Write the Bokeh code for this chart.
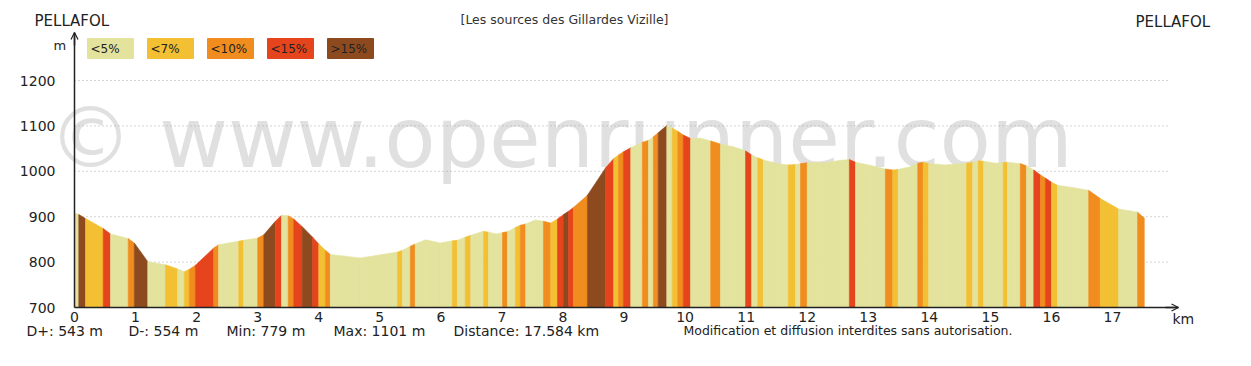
from bokeh.plotting import figure
from bokeh.models import Label, Arrow, OpenHead, FixedTicker, Range1d, LinearAxis
from bokeh.embed import file_html
from bokeh.resources import INLINE

# ---------------- data ----------------
km = [0.00, 0.07, 0.18, 0.47, 0.59, 0.88, 0.98, 1.20, 1.49, 1.69, 1.80, 1.88, 1.98,
      2.28, 2.36, 2.69, 2.77, 3.00, 3.10, 3.29, 3.39, 3.50, 3.59, 3.73, 3.90, 4.00,
      4.11, 4.19, 4.68, 5.29, 5.37, 5.50, 5.58, 5.75, 5.99, 6.19, 6.27, 6.40, 6.49,
      6.70, 6.78, 6.91, 7.01, 7.09, 7.22, 7.30, 7.39, 7.55, 7.68, 7.80, 7.91, 8.01,
      8.09, 8.17, 8.40, 8.70, 8.83, 8.91, 8.99, 9.11, 9.30, 9.40, 9.48, 9.56, 9.70,
      9.79, 9.88, 9.97, 10.09, 10.25, 10.42, 10.58, 10.79, 10.99, 11.09, 11.19, 11.28,
      11.51, 11.69, 11.81, 11.89, 12.00, 12.27, 12.54, 12.69, 12.79, 13.04, 13.28,
      13.40, 13.49, 13.69, 13.81, 13.90, 13.99, 14.26, 14.61, 14.71, 14.80, 14.89,
      15.08, 15.21, 15.28, 15.41, 15.49, 15.59, 15.71, 15.82, 15.90, 16.00, 16.10,
      16.36, 16.61, 16.80, 17.10, 17.41, 17.52]
elev = [908, 905, 896, 874, 862, 852, 842, 801, 794, 785, 779, 784, 793,
        831, 838, 846, 848, 853, 860, 890, 903, 902, 895, 878, 855, 840,
        826, 817, 809, 822, 826, 835, 840, 849, 842, 847, 848, 855, 859,
        868, 866, 862, 865, 867, 876, 881, 884, 893, 890, 886, 895, 905,
        912, 920, 947, 1008, 1028, 1036, 1043, 1052, 1064, 1068, 1076, 1085, 1101,
        1095, 1088, 1080, 1072, 1073, 1067, 1060, 1054, 1045, 1036, 1030, 1025,
        1017, 1014, 1015, 1017, 1019, 1019, 1024, 1026, 1020, 1013, 1005,
        1003, 1004, 1010, 1018, 1020, 1017, 1014, 1018, 1020, 1023, 1022,
        1018, 1019, 1020, 1018, 1017, 1012, 1003, 992, 985, 976, 969,
        964, 958, 940, 917, 910, 897]
# slope class of each segment between consecutive points
grade = ["<5%", ">15%", "<7%", "<15%", "<5%", "<10%", ">15%", "<5%", "<7%", "<5%", "<7%", "<10%", "<15%",
         "<10%", "<5%", "<7%", "<5%", "<10%", ">15%", "<15%", "<5%", "<10%", "<15%", ">15%", "<15%", "<7%",
         "<10%", "<5%", "<5%", "<7%", "<5%", "<10%", "<5%", "<5%", "<5%", "<7%", "<5%", "<7%", "<5%",
         "<7%", "<5%", "<5%", "<10%", "<5%", "<7%", "<10%", "<5%", "<5%", "<10%", "<7%", "<15%", ">15%",
         "<15%", "<10%", ">15%", "<15%", "<7%", "<10%", "<15%", "<5%", "<10%", "<5%", "<10%", ">15%", "<5%",
         "<7%", "<10%", "<15%", "<5%", "<5%", "<10%", "<5%", "<5%", "<15%", "<5%", "<7%", "<5%",
         "<5%", "<7%", "<5%", "<10%", "<5%", "<5%", "<5%", "<15%", "<5%", "<5%", "<10%",
         "<7%", "<5%", "<5%", "<10%", "<7%", "<5%", "<5%", "<7%", "<5%", "<7%", "<5%",
         "<5%", "<7%", "<5%", "<5%", "<10%", "<5%", "<15%", "<10%", "<15%", "<7%", "<5%",
         "<5%", "<10%", "<7%", "<5%", "<10%"]

grade_classes = ["<5%", "<7%", "<10%", "<15%", ">15%"]
grade_colors = ["#e3e39d", "#f3c033", "#f08d1e", "#e6441c", "#8e4a1f"]
y_ticks = [700, 800, 900, 1000, 1100, 1200]
grid_ticks = [800, 900, 1000, 1100, 1200]
x_ticks = list(range(0, 18))
stats = ["D+: 543 m", "D-: 554 m", "Min: 779 m", "Max: 1101 m", "Distance: 17.584 km"]
notice = "Modification et diffusion interdites sans autorisation."
title = "[Les sources des Gillardes Vizille]"
start_name = "PELLAFOL"
end_name = "PELLAFOL"
watermark = "\u00a9 www.openrunner.com"

FONT = "DejaVu Sans"
INK = "#222222"

# ---------------- layout helpers (page pixel -> data) ----------------
W, H = 1243, 358
PX_KM = 61.06
PX_M = 0.454
def xd(px):
    return (px - 74) / PX_KM
def yd(py):
    return 700 + (307 - py) / PX_M

p = figure(width=W, height=H, output_backend="svg", toolbar_location=None,
           x_range=Range1d(xd(0), xd(W)), y_range=Range1d(yd(H), yd(0)),
           x_axis_location=None, y_axis_location=None, min_border=0)
p.outline_line_color = None
p.background_fill_color = "white"
p.xgrid.visible = False
p.ygrid.visible = False

# watermark (behind everything)
p.add_layout(Label(x=xd(48), y=yd(137), text=watermark, text_font=FONT,
                   text_font_size="84px", text_color="#e0e0e0",
                   text_baseline="middle", level="underlay"))

# dotted horizontal guide lines
p.multi_line(xs=[[0, xd(1170)] for _ in grid_ticks], ys=[[t, t] for t in grid_ticks],
             line_color="#a8a8a8", line_dash="1 3", line_width=1)

# profile stripes
xs = [[km[i], km[i], km[i + 1], km[i + 1]] for i in range(len(grade))]
ys = [[700, elev[i], elev[i + 1], 700] for i in range(len(grade))]
cols = [grade_colors[grade_classes.index(g)] for g in grade]
p.patches(xs, ys, fill_color=cols, line_color=cols, line_width=0.6)

# axes placed at fixed data locations
xaxis = LinearAxis(fixed_location=700, bounds=(0, xd(1178)),
                   ticker=FixedTicker(ticks=x_ticks))
yaxis = LinearAxis(fixed_location=0, bounds=(700, yd(32)),
                   ticker=FixedTicker(ticks=y_ticks))
for ax in (xaxis, yaxis):
    ax.major_tick_line_color = None
    ax.minor_tick_line_color = None
    ax.axis_line_color = INK
    ax.axis_line_width = 1.5
    ax.major_label_text_font = FONT
    ax.major_label_text_font_size = "14px"
    ax.major_label_text_color = INK
xaxis.major_label_standoff = -2
yaxis.major_label_standoff = 13
p.add_layout(xaxis, "below")
p.add_layout(yaxis, "left")

# axis arrows
p.add_layout(Arrow(end=OpenHead(size=7, line_color=INK, line_width=1.2),
                   x_start=xd(1165), y_start=700, x_end=xd(1178), y_end=700,
                   line_color=INK, line_width=1.5))
p.add_layout(Arrow(end=OpenHead(size=7, line_color=INK, line_width=1.2),
                   x_start=0, y_start=yd(45), x_end=0, y_end=yd(32),
                   line_color=INK, line_width=1.5))
p.add_layout(Label(x=xd(1172), y=yd(318), text="km", text_font=FONT,
                   text_font_size="14px", text_color=INK, text_baseline="middle"))
p.add_layout(Label(x=xd(53), y=yd(45), text="m", text_font=FONT,
                   text_font_size="13px", text_color=INK, text_baseline="middle"))

# legend boxes
for i, (g, c) in enumerate(zip(grade_classes, grade_colors)):
    left = 87 + 60 * i
    p.quad(left=xd(left), right=xd(left + 46), top=yd(38), bottom=yd(58),
           fill_color=c, line_color=c)
    p.add_layout(Label(x=xd(left + 3), y=yd(48), text=g, text_font=FONT,
                       text_font_size="12px", text_color="#222222",
                       text_baseline="middle"))

# titles
p.add_layout(Label(x=xd(34), y=yd(20), text=start_name, text_font=FONT,
                   text_font_size="15px", text_color=INK, text_baseline="middle"))
p.add_layout(Label(x=xd(1135), y=yd(21), text=end_name, text_font=FONT,
                   text_font_size="15px", text_color=INK, text_baseline="middle"))
p.add_layout(Label(x=xd(564), y=yd(19), text=title, text_font=FONT,
                   text_font_size="12.5px", text_color="#333333",
                   text_baseline="middle", text_align="center"))

# stats under the axis
for sx, s in zip([26, 128, 226, 333, 453], stats):
    p.add_layout(Label(x=xd(sx), y=yd(330), text=s, text_font=FONT,
                       text_font_size="14px", text_color=INK, text_baseline="middle"))
p.add_layout(Label(x=xd(683), y=yd(330), text=notice, text_font=FONT,
                   text_font_size="12.5px", text_color=INK, text_baseline="middle"))

open("out.html", "w").write(file_html(p, INLINE))
